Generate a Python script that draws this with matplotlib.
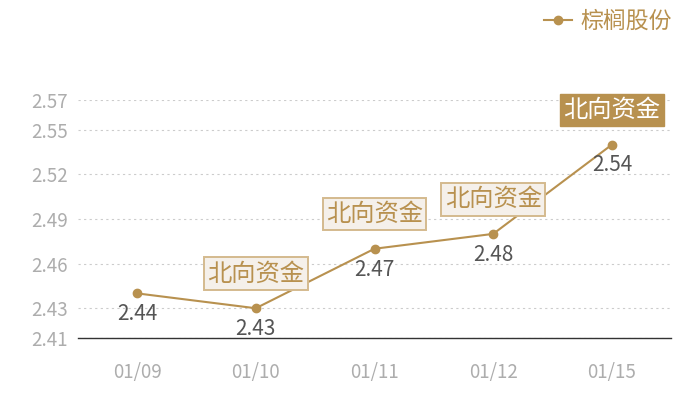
import matplotlib
matplotlib.use("Agg")
import matplotlib.pyplot as plt

plt.rcParams['font.family'] = ['Noto Sans CJK SC', 'DejaVu Sans']

# ============================================================
# DATA
# ============================================================

dates = ["01/09", "01/10", "01/11", "01/12", "01/15"]
prices = [2.44, 2.43, 2.47, 2.48, 2.54]
series_name = "棕榈股份"

# which points get the "北向资金" tag, and which one is highlighted
tag_text = "北向资金"
tagged = [False, True, True, True, True]
highlighted = [False, False, False, False, True]

y_ticks = [2.41, 2.43, 2.46, 2.49, 2.52, 2.55, 2.57]
y_tick_labels = ["2.41", "2.43", "2.46", "2.49", "2.52", "2.55", "2.57"]

# ============================================================
# STYLE
# ============================================================

gold = "#B8914F"
box_fill = "#F5F0EA"
box_edge = "#D4BA8E"

fig = plt.figure(figsize=(7, 4), dpi=100)
ax = fig.add_axes([0.111, 0.155, 0.848, 0.595])

x = list(range(len(dates)))
ax.plot(x, prices, color=gold, linewidth=1.5, marker="o", markersize=6,
        label=series_name, zorder=3)

ax.set_xlim(-0.5, len(dates) - 0.5)
ax.set_ylim(2.41, 2.57)

ax.set_xticks(x)
ax.set_xticklabels(dates)
ax.set_yticks(y_ticks)
ax.set_yticklabels(y_tick_labels)
ax.tick_params(axis="both", length=0, labelsize=13.5, labelcolor="#ADADAD")
ax.tick_params(axis="x", pad=17)
ax.tick_params(axis="y", pad=7)

for spine in ["top", "right", "left"]:
    ax.spines[spine].set_visible(False)
ax.spines["bottom"].set_color("#333333")
ax.spines["bottom"].set_linewidth(1)

ax.grid(axis="y", linestyle=(0, (2, 3)), color="#CCCCCC", linewidth=0.8)
ax.set_axisbelow(True)

# value labels below points
for xi, val in zip(x, prices):
    ax.annotate(f"{val:.2f}", (xi, val), xytext=(0, -15),
                textcoords="offset points", ha="center", va="center",
                fontsize=15, color="#555555")

# tags above points
for xi, val, has_tag, hi in zip(x, prices, tagged, highlighted):
    if not has_tag:
        continue
    if hi:
        bbox = dict(boxstyle="square,pad=0.14", fc=gold, ec=gold, lw=1)
        tcolor = "white"
    else:
        bbox = dict(boxstyle="square,pad=0.14", fc=box_fill, ec=box_edge, lw=1.4)
        tcolor = gold
    ax.annotate(tag_text, (xi, val), xytext=(0, 25),
                textcoords="offset points", ha="center", va="center",
                fontsize=17.5, color=tcolor, bbox=bbox, zorder=5,
                annotation_clip=False)

leg = ax.legend(loc="upper right", bbox_to_anchor=(0.98, 1.01),
                bbox_transform=fig.transFigure, frameon=False,
                fontsize=16.5, handlelength=1.2, handletextpad=0.4,
                borderaxespad=0.2)
for t in leg.get_texts():
    t.set_color(gold)

fig.savefig("out.png", dpi=100)
